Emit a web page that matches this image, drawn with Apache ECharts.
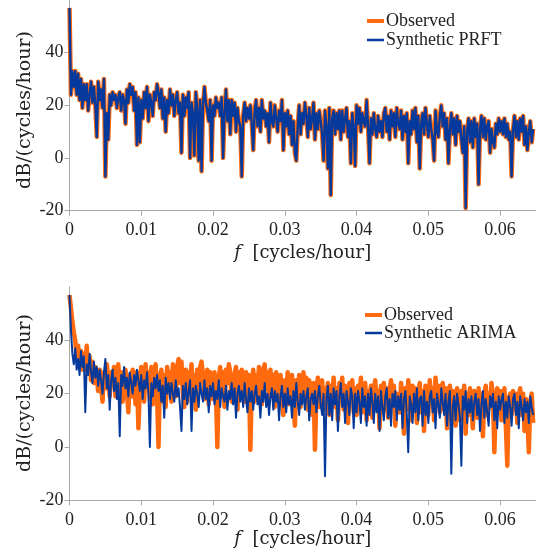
<!DOCTYPE html>
<html><head><meta charset="utf-8">
<script src="https://cdn.jsdelivr.net/npm/echarts@6/dist/echarts.min.js"></script>
<style>html,body{margin:0;padding:0;background:#fff}#c{width:536px;height:559px}</style>
</head><body><div id="c"></div>
<script>
// frequency spacing of the spectra (cycles/hour)
const freqStep = 0.0002;
const xTicks = [0, 0.01, 0.02, 0.03, 0.04, 0.05, 0.06];
const yTicks = [-20, 0, 20, 40];

// top panel: observed spectrum (dB/(cycles/hour))
const topObserved = [
57,24,33,27,33,24,32,22,30,19,
28,22,28,18,24,29,21,27,20,8,
29,22,26,19,30,-7,17,7,24,20,
25,22,24,19,23,25,18,24,22,13,
26,21,28,24,27,18,25,5,23,6,
22,15,25,19,27,14,24,21,16,25,
22,28,25,19,26,15,23,10,22,17,
26,20,24,16,22,25,17,21,2,24,
16,23,19,25,0,21,17,1,25,19,
-1,22,-5,20,27,21,18,14,22,-1,
20,16,23,19,21,16,23,0,17,26,
14,22,9,22,16,21,10,19,14,12,
-7,16,21,14,19,15,20,13,3,18,
22,12,19,10,22,15,18,12,17,6,
21,14,12,20,15,10,18,14,22,3,
17,12,18,9,16,5,14,2,-1,12,
20,9,17,13,21,16,8,19,11,15,
21,7,17,11,18,14,9,-1,18,12,
-4,19,-14,15,18,9,17,11,18,7,
18,10,15,19,8,14,-2,17,12,-3,
20,13,19,10,17,14,12,22,12,-2,
15,9,17,11,8,16,10,14,8,17,
19,10,16,7,18,12,17,8,19,13,
11,18,7,16,10,17,-2,14,9,18,
11,19,6,16,-4,13,17,9,19,13,
8,16,11,7,-1,18,10,8,16,20,
12,17,7,15,-2,11,17,9,15,5,
16,10,14,7,2,12,-19,10,15,6,
14,4,15,8,13,-10,11,16,8,15,
7,12,14,2,11,6,4,13,9,15,
10,14,9,15,8,13,7,10,-7,11,
16,8,14,7,15,10,16,5,12,3,
10,14,6,11
];
// top panel: synthetic PRFT spectrum (same amplitudes as observed)
const topSyntheticPRFT = topObserved.slice();

// bottom panel: observed spectrum
const bottomObserved = [
57,52,47,43,40,33,38,30,36,29,
35,29,38,28,34,25,32,24,30,26,
21,29,24,17,28,22,31,26,19,28,
23,30,19,27,31,21,28,17,26,29,
21,13,27,19,29,24,16,28,7,22,
30,24,17,31,22,28,18,30,16,27,
31,20,0,26,29,17,27,15,30,22,
28,17,31,26,19,30,33,24,32,20,
15,29,17,28,22,31,18,27,14,29,
23,30,32,27,18,24,29,16,28,22,
18,28,21,0,26,30,19,28,15,29,
24,31,28,17,21,27,30,14,28,20,
29,25,17,28,21,27,-1,24,29,17,
27,20,30,26,16,29,31,22,28,18,
29,19,27,15,28,23,17,27,20,12,
25,18,28,16,24,27,19,8,25,18,
27,15,24,28,19,26,14,25,21,12,
24,-1,20,26,15,23,25,14,22,17,
24,12,23,18,26,15,22,10,24,17,
26,14,23,17,9,24,19,25,13,22,
12,23,18,26,13,22,24,10,21,16,
23,11,22,25,15,21,7,23,17,24,
14,22,11,21,25,16,23,8,20,19,
13,24,18,5,22,14,25,19,10,23,
16,22,9,20,24,13,21,6,23,17,
12,25,18,22,10,26,16,23,13,21,
24,14,22,7,20,23,11,21,15,8,
22,16,10,21,13,23,5,20,12,22,
15,7,21,17,11,22,14,20,4,19,
23,12,20,15,24,19,-2,18,22,13,
21,10,19,22,8,-7,18,20,12,21,
14,20,9,19,22,12,20,6,18,11,
-2,17,20,9
];
// bottom panel: synthetic ARIMA spectrum
const bottomSyntheticARIMA = [
57,44,35,31,37,29,33,27,36,30,
34,13,31,27,35,28,24,32,26,30,
23,29,25,20,28,33,22,27,14,25,
29,21,26,18,24,4,27,23,30,22,
26,19,28,24,20,27,23,29,25,21,
27,18,25,22,28,20,0,24,19,26,
22,27,21,25,17,23,11,26,20,24,
18,24,20,17,25,19,22,15,6,23,
18,24,16,21,25,6,22,17,23,20,
15,24,20,17,25,18,22,13,23,19,
24,16,21,18,25,15,22,19,17,23,
14,21,18,24,16,22,11,20,23,17,
21,15,24,18,13,22,17,21,14,20,
23,16,19,11,21,17,24,15,20,12,
19,22,14,21,17,20,10,19,23,15,
20,13,22,16,19,11,21,15,24,17,
12,20,16,21,14,19,22,10,18,20,
16,21,13,19,23,16,12,20,-11,18,
23,12,20,10,22,16,21,6,19,24,
15,20,9,21,17,12,22,19,7,20,
13,21,17,9,22,15,19,8,20,12,
22,17,9,20,13,19,6,21,15,10,
19,22,11,18,8,20,15,21,10,19,
14,20,7,18,21,12,-2,19,16,9,
20,13,22,10,18,19,8,21,12,17,
9,19,21,13,18,7,20,16,11,22,
17,12,20,8,17,21,-10,15,19,10,
20,16,11,-7,19,14,21,9,18,13,
19,10,17,20,12,18,6,16,21,11,
18,13,8,19,15,20,10,17,7,19,
14,18,20,9,17,11,19,15,8,18,
20,12,17,7,19,15,10,18,13,17,
9,19,15,12
];

const ORANGE = '#ff6a0e';
const BLUE = '#053a9c';
const FONT = '"Liberation Serif", serif';
const TFONT = '"DejaVu Serif", serif';
const pairs = arr => arr.map((v, i) => [+(i * freqStep).toFixed(5), v]);

function xAxisCfg(gridIndex, gap) {
  return {
    type: 'value', gridIndex, min: 0, max: 0.065, interval: 0.01,
    name: '{i|f}  [cycles/hour]', nameLocation: 'middle', nameGap: gap,
    nameTextStyle: { fontFamily: TFONT, fontSize: 18, color: '#222',
      rich: { i: { fontStyle: 'italic', fontFamily: TFONT, fontSize: 18, color: '#222' } } },
    axisLine: { onZero: false, lineStyle: { color: '#a8a8a8', width: 1 } },
    axisTick: { show: true, length: 5, customValues: xTicks, lineStyle: { color: '#a8a8a8' } },
    splitLine: { show: false },
    axisLabel: { customValues: xTicks, margin: 11, fontFamily: FONT, fontSize: 18, color: '#222',
      formatter: v => v === 0 ? '0' : v.toFixed(2) }
  };
}
function yAxisCfg(gridIndex) {
  return {
    type: 'value', gridIndex, min: -20, max: 60, interval: 20,
    axisLine: { show: true, onZero: false, lineStyle: { color: '#a8a8a8', width: 1 } },
    axisTick: { show: true, length: 5, customValues: yTicks, lineStyle: { color: '#a8a8a8' } },
    splitLine: { show: false },
    axisLabel: { customValues: yTicks, margin: 6, fontFamily: FONT, fontSize: 18, color: '#222' }
  };
}
function legendCfg(name, top, left, h) {
  return {
    data: [name], top, left, icon: 'rect', itemWidth: 17, itemHeight: h,
    itemGap: 0, padding: 0, selectedMode: false,
    textStyle: { fontFamily: FONT, fontSize: 18, color: '#222', padding: [0, 0, 0, -3] }
  };
}

const chart = echarts.init(document.getElementById('c'), null, { renderer: 'canvas' });
chart.setOption({
  animation: false,
  backgroundColor: '#fff',
  grid: [
    { left: 69.5, top: -2.7, width: 469.3, height: 213.4 },
    { left: 69.5, top: 287, width: 469.3, height: 213.3 }
  ],
  xAxis: [xAxisCfg(0, 34), xAxisCfg(1, 28)],
  yAxis: [yAxisCfg(0), yAxisCfg(1)],
  legend: [
    legendCfg('Observed', 12, 367, 4),
    legendCfg('Synthetic PRFT', 31, 367, 2.5),
    legendCfg('Observed', 306, 365, 4),
    legendCfg('Synthetic ARIMA', 324, 365, 2.5)
  ],
  graphic: [
    { type: 'text', x: 25, y: 110, rotation: Math.PI / 2,
      style: { text: 'dB/(cycles/hour)', font: '19px "DejaVu Serif"', fill: '#222', align: 'center', verticalAlign: 'middle' } },
    { type: 'text', x: 25, y: 393, rotation: Math.PI / 2,
      style: { text: 'dB/(cycles/hour)', font: '19px "DejaVu Serif"', fill: '#222', align: 'center', verticalAlign: 'middle' } }
  ],
  series: [
    { name: 'Observed', type: 'line', xAxisIndex: 0, yAxisIndex: 0, data: pairs(topObserved),
      showSymbol: false, symbol: 'none', lineStyle: { color: ORANGE, width: 4.5, join: 'round' }, itemStyle: { color: ORANGE } },
    { name: 'Synthetic PRFT', type: 'line', xAxisIndex: 0, yAxisIndex: 0, data: pairs(topSyntheticPRFT),
      showSymbol: false, symbol: 'none', lineStyle: { color: BLUE, width: 2.4, join: 'round' }, itemStyle: { color: BLUE } },
    { name: 'Observed', type: 'line', xAxisIndex: 1, yAxisIndex: 1, data: pairs(bottomObserved),
      showSymbol: false, symbol: 'none', lineStyle: { color: ORANGE, width: 4.5, join: 'round' }, itemStyle: { color: ORANGE } },
    { name: 'Synthetic ARIMA', type: 'line', xAxisIndex: 1, yAxisIndex: 1, data: pairs(bottomSyntheticARIMA),
      showSymbol: false, symbol: 'none', lineStyle: { color: BLUE, width: 2, join: 'round' }, itemStyle: { color: BLUE } }
  ]
});
</script>
</body></html>
